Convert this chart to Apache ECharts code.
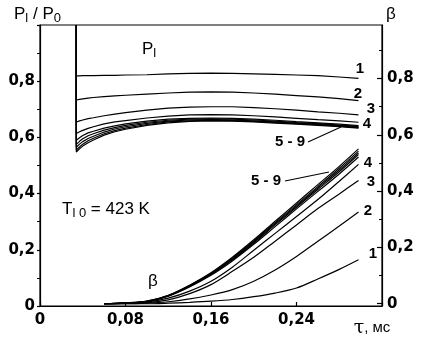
<!DOCTYPE html>
<html><head><meta charset="utf-8">
<script src="https://cdn.jsdelivr.net/npm/echarts@6/dist/echarts.min.js"></script>
<style>html,body{margin:0;padding:0;background:#fff}#c{width:423px;height:340px}</style>
</head><body><div id="c"></div>
<script>
// time grid for P_l / P_0 curves (first point = start of vertical drop from 1)
const tauP = [0.034, 0.034, 0.037, 0.04, 0.045, 0.05, 0.06, 0.07, 0.08, 0.10, 0.12, 0.14, 0.16, 0.18, 0.20, 0.22, 0.24, 0.26, 0.28, 0.298];
const P1 = [1, 0.819, 0.819, 0.820, 0.820, 0.820, 0.821, 0.821, 0.822, 0.823, 0.826, 0.828, 0.829, 0.828, 0.826, 0.824, 0.822, 0.820, 0.815, 0.810];
const P2 = [1, 0.733, 0.735, 0.737, 0.740, 0.742, 0.745, 0.748, 0.750, 0.754, 0.758, 0.761, 0.762, 0.761, 0.758, 0.754, 0.749, 0.744, 0.738, 0.731];
const P3 = [1, 0.655, 0.659, 0.662, 0.667, 0.670, 0.677, 0.683, 0.688, 0.697, 0.704, 0.708, 0.709, 0.709, 0.706, 0.702, 0.697, 0.691, 0.686, 0.680];
const P4 = [1, 0.614, 0.620, 0.625, 0.632, 0.638, 0.648, 0.655, 0.660, 0.669, 0.676, 0.680, 0.681, 0.680, 0.677, 0.673, 0.668, 0.663, 0.659, 0.654];
const P5 = [1, 0.590, 0.599, 0.607, 0.616, 0.622, 0.633, 0.641, 0.648, 0.658, 0.665, 0.668, 0.669, 0.668, 0.665, 0.661, 0.656, 0.652, 0.647, 0.642];
const P6 = [1, 0.575, 0.586, 0.595, 0.606, 0.613, 0.626, 0.635, 0.643, 0.654, 0.661, 0.665, 0.666, 0.665, 0.662, 0.658, 0.653, 0.649, 0.644, 0.639];
const P7 = [1, 0.565, 0.576, 0.585, 0.596, 0.604, 0.619, 0.630, 0.638, 0.650, 0.658, 0.662, 0.663, 0.662, 0.659, 0.655, 0.651, 0.647, 0.642, 0.637];
const P8 = [1, 0.555, 0.566, 0.576, 0.588, 0.597, 0.613, 0.624, 0.633, 0.646, 0.655, 0.659, 0.661, 0.660, 0.657, 0.653, 0.649, 0.645, 0.640, 0.635];
const P9 = [1, 0.548, 0.559, 0.569, 0.581, 0.591, 0.608, 0.620, 0.629, 0.643, 0.652, 0.657, 0.659, 0.658, 0.655, 0.651, 0.647, 0.643, 0.638, 0.633];

// time grid for beta curves
const tauB = [0.06, 0.08, 0.10, 0.12, 0.14, 0.16, 0.18, 0.20, 0.22, 0.24, 0.26, 0.28, 0.298];
const B1 = [0, 0, 0, 0.002, 0.005, 0.009, 0.015, 0.025, 0.038, 0.056, 0.088, 0.122, 0.156];
const B2 = [0, 0, 0.002, 0.007, 0.017, 0.031, 0.050, 0.080, 0.120, 0.168, 0.222, 0.276, 0.326];
const B3 = [0, 0.001, 0.004, 0.014, 0.036, 0.068, 0.115, 0.165, 0.222, 0.280, 0.338, 0.390, 0.438];
const B4 = [0, 0.002, 0.006, 0.020, 0.045, 0.080, 0.130, 0.190, 0.250, 0.310, 0.370, 0.435, 0.495];
const B5 = [0, 0.002, 0.008, 0.027, 0.060, 0.101, 0.152, 0.211, 0.274, 0.337, 0.399, 0.461, 0.521];
const B6 = [0, 0.003, 0.008, 0.028, 0.062, 0.104, 0.156, 0.216, 0.280, 0.343, 0.406, 0.469, 0.530];
const B7 = [0, 0.003, 0.008, 0.028, 0.063, 0.106, 0.159, 0.219, 0.284, 0.347, 0.411, 0.475, 0.536];
const B8 = [0, 0.003, 0.009, 0.029, 0.065, 0.108, 0.162, 0.223, 0.288, 0.352, 0.416, 0.481, 0.542];
const B9 = [0, 0.003, 0.009, 0.030, 0.066, 0.110, 0.165, 0.227, 0.293, 0.358, 0.423, 0.488, 0.550];

const xTickLabels = [0, 0.08, 0.16, 0.24];
const leftTickLabels = [0, 0.2, 0.4, 0.6, 0.8];
const rightTickLabels = [0, 0.2, 0.4, 0.6, 0.8];
const rightMinorTicks = [0.1, 0.3, 0.5, 0.7, 0.9];

const fmt = v => String(+(+v).toFixed(2)).replace('.', ',');
const zip = (xs, ys) => xs.map((x, i) => [x, ys[i]]);

const pSeries = [P1, P2, P3, P4, P5, P6, P7, P8, P9];
const bSeries = [B1, B2, B3, B4, B5, B6, B7, B8, B9];

const lineStyle = { color: '#000', width: 1.2 };
const series = [];
pSeries.forEach((d, i) => series.push({
  type: 'line', name: 'P' + (i + 1), yAxisIndex: 0, data: zip(tauP, d),
  showSymbol: false, smooth: false, lineStyle, silent: true, z: 3
}));
bSeries.forEach((d, i) => series.push({
  type: 'line', name: 'B' + (i + 1), yAxisIndex: 1, data: zip(tauB, d),
  showSymbol: false, smooth: 0.3, lineStyle, silent: true, z: 3
}));

const tickFont = { fontFamily: 'DejaVu Sans', fontWeight: 'bold', fontSize: 15, color: '#000' };
const lblFont = 'bold 15px "Liberation Sans", Arial, sans-serif';
const txtFont = '17px "Liberation Sans", Arial, sans-serif';

function T(x, y, text, font, align) {
  return { type: 'text', x, y, z: 10, style: { text, font: font || lblFont, fill: '#000',
    textAlign: align || 'center', textVerticalAlign: 'middle' } };
}
function L(x1, y1, x2, y2) {
  return { type: 'line', z: 10, shape: { x1, y1, x2, y2 }, style: { stroke: '#000', lineWidth: 1.1 } };
}
function R(x, y, parts) {
  return { type: 'text', x, y, z: 10, style: {
    text: parts, fill: '#000', textAlign: 'left', textVerticalAlign: 'top',
    rich: {
      a: { fontSize: 17, fontFamily: 'Liberation Sans', lineHeight: 22, verticalAlign: 'middle', fill: '#000' },
      s: { fontSize: 13, fontFamily: 'Liberation Sans', lineHeight: 22, verticalAlign: 'bottom', fill: '#000', padding: [6, 0, 0, 0] }
    } } };
}

const chart = echarts.init(document.getElementById('c'), null, { renderer: 'canvas' });
chart.setOption({
  animation: false,
  backgroundColor: '#fff',
  grid: { left: 40, right: 41, top: 25, bottom: 34, show: true, borderColor: '#000', borderWidth: 1.2 },
  xAxis: {
    type: 'value', min: 0, max: 0.32, interval: 0.08,
    axisLine: { show: true, lineStyle: { color: '#000', width: 1.2 } },
    axisTick: { show: true, inside: true, length: 4, lineStyle: { color: '#000', width: 1.2 } },
    splitLine: { show: false },
    axisLabel: Object.assign({ margin: 7, formatter: v => (xTickLabels.some(t => Math.abs(t - v) < 1e-9) ? fmt(v) : '') }, tickFont)
  },
  yAxis: [
    {
      type: 'value', min: 0, max: 1, interval: 0.2, position: 'left',
      axisLine: { show: true, lineStyle: { color: '#000', width: 1.2 } },
      axisTick: { show: true, inside: false, length: 3, lineStyle: { color: '#000', width: 1.2 } },
      minorTick: { show: true, splitNumber: 2, length: 3, lineStyle: { color: '#000', width: 1 } },
      splitLine: { show: false },
      axisLabel: Object.assign({ margin: 5, formatter: v => (leftTickLabels.some(t => Math.abs(t - v) < 1e-9) ? fmt(v) : '') }, tickFont)
    },
    {
      type: 'value', min: -0.008, max: 0.99, position: 'right',
      axisLine: { show: true, lineStyle: { color: '#000', width: 1.2 } },
      axisTick: { show: true, inside: true, length: 5, customValues: rightTickLabels, lineStyle: { color: '#000', width: 1.2 } },
      splitLine: { show: false },
      axisLabel: Object.assign({ margin: 5, customValues: rightTickLabels, formatter: v => fmt(v) }, tickFont)
    },
    {
      type: 'value', min: -0.008, max: 0.99, position: 'right',
      axisLine: { show: false },
      axisTick: { show: true, inside: true, length: 3, customValues: rightMinorTicks, lineStyle: { color: '#000', width: 1 } },
      splitLine: { show: false },
      axisLabel: { show: false }
    }
  ],
  series,
  graphic: [
    R(14, 3, '{a|P}{s|l}{a| / P}{s|0}'),
    T(391, 14, 'β', txtFont),
    R(142, 38, '{a|P}{s|l}'),
    R(62, 198, '{a|T}{s|l 0}{a| = 423 K}'),
    T(153, 281, 'β', txtFont),
    // P curve labels
    T(360, 69, '1'), T(358, 94, '2'), T(371, 109, '3'), T(367, 124, '4'),
    T(290, 142, '5 - 9'), L(308, 142, 341, 127),
    // beta curve labels
    T(368, 163, '4'), T(371, 182, '3'), T(368, 211, '2'), T(373, 254, '1'),
    T(266, 181, '5 - 9'), L(285, 181, 329, 172),
    // axis title
    { type: 'text', x: 372, y: 328, z: 10, style: { text: '{t|τ}{m|, мс}', textAlign: 'center', textVerticalAlign: 'middle',
      rich: { t: { fontSize: 19, fontFamily: 'DejaVu Serif', fill: '#000' }, m: { fontSize: 15, fontFamily: 'Liberation Sans', fill: '#000' } } } }
  ]
});
</script>
</body></html>
